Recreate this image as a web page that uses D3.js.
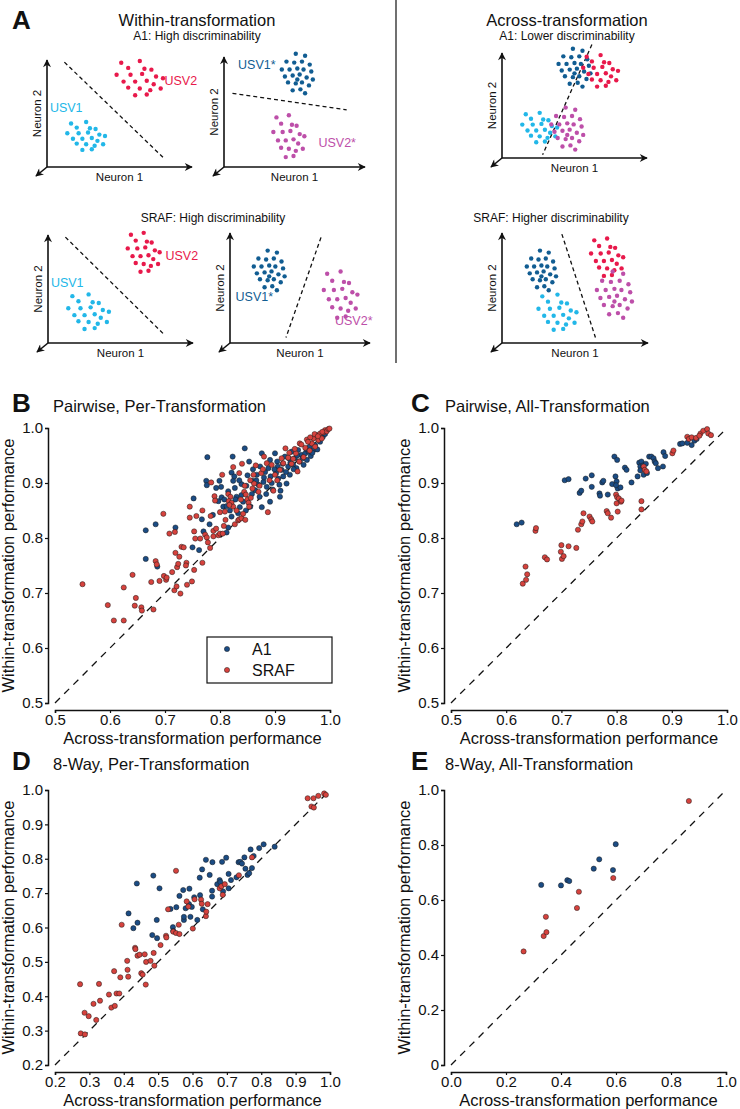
<!DOCTYPE html>
<html>
<head>
<meta charset="utf-8">
<script src="https://d3js.org/d3.v7.min.js"></script>
<style>
  body { margin: 0; background: #fff; font-family: "Liberation Sans", Arial, sans-serif; }
  svg text { font-family: "Liberation Sans", Arial, sans-serif; fill: #111; }
</style>
</head>
<body>
<div id="fig"></div>
<script>
// ---------- data ----------
// panel A: schematic clusters in neuron units (0-100 on both axes)
var patternA = [[-0.8,0.9],[0.0,1.0],[-0.5,0.6],[0.2,0.55],[0.5,0.5],[-1.0,0.2],[-0.4,0.2],[0.1,0.25],[0.7,0.1],[1.0,0.0],
  [-0.7,-0.2],[-0.2,-0.2],[0.3,-0.15],[0.6,-0.35],[-0.5,-0.55],[0.0,-0.6],[0.45,-0.7],[0.9,-0.6],[-0.2,-1.0],[0.3,-0.95]];
var patternB = [[-0.1,1.0],[0.5,0.9],[-0.7,0.6],[-0.2,0.55],[0.3,0.6],[0.8,0.45],[-1.0,0.2],[-0.5,0.2],[0.0,0.25],[0.4,0.2],
  [0.9,0.1],[-0.8,-0.15],[-0.3,-0.1],[0.15,-0.05],[0.6,-0.2],[1.0,-0.3],[-0.6,-0.45],[-0.1,-0.5],[0.3,-0.45],[0.75,-0.6],
  [-0.3,-0.85],[0.2,-0.8],[0.5,-1.0],[0.0,-0.3]];

// [plot, pattern, cx, cy, rx, ry, kind]
var clusters = [
  [0, 'A', 64, 83, 16, 16, 'usv2'], [0, 'A', 27, 29, 13, 13, 'usv1'],
  [1, 'B', 52, 85, 11, 18, 'usv1s'], [1, 'A', 46, 28, 11, 19, 'usv2s'],
  [2, 'B', 50, 86, 11, 18, 'usv1s'], [2, 'A', 68, 83, 12, 15, 'usv2'], [2, 'A', 26, 29, 12, 14, 'usv1'], [2, 'B', 45, 28, 11, 20, 'usv2s'],
  [3, 'A', 66, 84, 11, 18, 'usv2'], [3, 'A', 28, 29, 14, 16, 'usv1'],
  [4, 'B', 28, 66, 11, 18, 'usv1s'], [4, 'A', 79, 44, 12, 21, 'usv2s'],
  [5, 'B', 27, 66, 10, 18, 'usv1s'], [5, 'A', 38, 28, 13, 16, 'usv1'], [5, 'A', 72, 78, 11, 17, 'usv2'], [5, 'B', 77, 44, 12, 21, 'usv2s']
];
// decision boundaries [plot, x1, y1, x2, y2]
var boundaries = [[0, 12, 98, 80, 9], [1, 6, 67, 87, 52], [2, 62, 108, 28, 3],
  [3, 12, 98, 80, 8], [4, 65, 96, 40, 5], [5, 41, 99, 64, 5]];
// cluster labels [plot, x, y, text, kind]
var clusterLabels = [[0, 81, 77, 'USV2', 'usv2'], [0, 2, 51, 'USV1', 'usv1'],
  [1, 10, 89, 'USV1*', 'usv1s'], [1, 67, 18, 'USV2*', 'usv2s'],
  [3, 81, 77, 'USV2', 'usv2'], [3, 2, 52, 'USV1', 'usv1'],
  [4, 4, 38, 'USV1*', 'usv1s'], [4, 75, 16, 'USV2*', 'usv2s']];

// panel B: pairwise, per-transformation [across, within]
var bA1 = [[0.665,0.762],[0.665,0.814],[0.683,0.825],[0.686,0.748],[0.719,0.819],[0.750,0.783],[0.762,0.778],[0.752,0.872],
  [0.767,0.834],[0.770,0.812],[0.775,0.904],[0.777,0.947],[0.776,0.896],[0.781,0.825],[0.787,0.842],[0.797,0.867],[0.799,0.904],
  [0.803,0.874],[0.806,0.857],[0.812,0.858],[0.815,0.819],[0.823,0.948],[0.821,0.919],[0.824,0.904],[0.827,0.891],[0.830,0.875],
  [0.836,0.856],[0.839,0.898],[0.842,0.866],[0.845,0.963],[0.850,0.914],[0.853,0.939],[0.855,0.857],[0.859,0.904],[0.864,0.887],
  [0.867,0.915],[0.870,0.897],[0.873,0.930],[0.876,0.856],[0.879,0.902],[0.882,0.920],[0.885,0.893],[0.888,0.927],[0.891,0.866],
  [0.892,0.912],[0.896,0.888],[0.900,0.954],[0.902,0.918],[0.904,0.939],[0.908,0.897],[0.910,0.886],[0.912,0.924],[0.915,0.912],
  [0.918,0.948],[0.921,0.899],[0.924,0.930],[0.927,0.915],[0.930,0.957],[0.933,0.933],[0.936,0.945],[0.939,0.927],[0.942,0.960],
  [0.945,0.939],[0.948,0.951],[0.952,0.933],[0.955,0.954],[0.958,0.942],[0.961,0.957],[0.965,0.949],[0.970,0.960],[0.973,0.969],
  [0.977,0.961],[0.982,0.975],[0.987,0.984],[0.991,0.989],[0.839,0.878],[0.847,0.850],[0.833,0.845],[0.812,0.810],[0.821,0.839],
  [0.793,0.891],[0.802,0.893],[0.909,0.875],[0.891,0.942],[0.876,0.954],[0.860,0.925],[0.880,0.910],[0.905,0.930],[0.925,0.945],
  [0.815,0.885],[0.828,0.870],[0.835,0.905],[0.848,0.895],[0.858,0.880],[0.866,0.905],[0.872,0.875],[0.884,0.880],[0.894,0.900],
  [0.899,0.925],[0.906,0.908],[0.914,0.935],[0.920,0.920],[0.928,0.937],[0.934,0.925],[0.940,0.950],[0.950,0.945],[0.957,0.962],
  [0.963,0.966],[0.968,0.955],[0.808,0.870],[0.818,0.850],[0.826,0.912]];
var bSRAF = [[0.550,0.716],[0.596,0.678],[0.607,0.650],[0.625,0.650],[0.625,0.710],[0.641,0.733],[0.647,0.691],[0.645,0.677],
  [0.657,0.674],[0.658,0.668],[0.679,0.670],[0.675,0.720],[0.683,0.758],[0.685,0.752],[0.690,0.722],[0.698,0.731],[0.702,0.724],
  [0.703,0.728],[0.713,0.738],[0.717,0.705],[0.721,0.712],[0.728,0.699],[0.722,0.747],[0.724,0.753],[0.719,0.773],[0.726,0.766],
  [0.739,0.755],[0.738,0.750],[0.730,0.784],[0.734,0.783],[0.740,0.715],[0.749,0.721],[0.753,0.742],[0.768,0.755],[0.708,0.808],
  [0.718,0.811],[0.697,0.844],[0.745,0.857],[0.745,0.837],[0.753,0.812],[0.757,0.840],[0.755,0.799],[0.764,0.799],[0.768,0.850],
  [0.773,0.806],[0.776,0.801],[0.782,0.782],[0.778,0.792],[0.783,0.840],[0.784,0.901],[0.788,0.813],[0.788,0.803],[0.790,0.876],
  [0.791,0.868],[0.793,0.817],[0.797,0.805],[0.800,0.808],[0.805,0.808],[0.807,0.822],[0.810,0.833],[0.804,0.915],[0.800,0.847],
  [0.809,0.848],[0.815,0.880],[0.819,0.875],[0.816,0.867],[0.821,0.864],[0.824,0.857],[0.824,0.929],[0.827,0.825],[0.833,0.832],
  [0.835,0.834],[0.839,0.836],[0.842,0.844],[0.846,0.833],[0.835,0.918],[0.840,0.935],[0.844,0.884],[0.847,0.879],[0.850,0.870],
  [0.852,0.864],[0.853,0.857],[0.856,0.873],[0.859,0.890],[0.862,0.899],[0.861,0.915],[0.865,0.932],[0.870,0.884],[0.875,0.918],
  [0.880,0.948],[0.885,0.936],[0.887,0.847],[0.890,0.905],[0.894,0.933],[0.897,0.886],[0.904,0.905],[0.909,0.924],[0.915,0.936],
  [0.919,0.963],[0.924,0.946],[0.930,0.935],[0.933,0.944],[0.938,0.954],[0.941,0.921],[0.944,0.939],[0.945,0.972],[0.952,0.947],
  [0.955,0.964],[0.958,0.979],[0.963,0.959],[0.967,0.972],[0.970,0.981],[0.973,0.966],[0.976,0.987],[0.979,0.978],[0.982,0.990],
  [0.985,0.981],[0.988,0.992],[0.991,0.996],[0.994,0.994],[0.997,0.998],[0.999,0.999],[0.964,0.983],[0.972,0.989],
  [0.817,0.860],[0.830,0.850],[0.838,0.870],[0.845,0.895],[0.855,0.905],[0.872,0.895],[0.878,0.925],[0.900,0.915],[0.912,0.945],
  [0.926,0.955],[0.936,0.962],[0.948,0.970],[0.960,0.975],[0.978,0.985],[0.986,0.993]];

// panel C: pairwise, all-transformation
var cA1 = [[0.619,0.825],[0.628,0.828],[0.706,0.905],[0.713,0.907],[0.733,0.882],[0.736,0.886],[0.744,0.908],[0.755,0.914],
  [0.755,0.893],[0.774,0.901],[0.776,0.904],[0.769,0.881],[0.770,0.877],[0.784,0.879],[0.792,0.898],[0.798,0.912],[0.800,0.903],
  [0.796,0.948],[0.801,0.942],[0.802,0.890],[0.807,0.892],[0.799,0.896],[0.815,0.928],[0.818,0.924],[0.827,0.901],[0.838,0.912],
  [0.841,0.937],[0.843,0.930],[0.845,0.939],[0.848,0.932],[0.853,0.935],[0.859,0.948],[0.863,0.948],[0.867,0.945],[0.869,0.939],
  [0.871,0.936],[0.875,0.927],[0.884,0.930],[0.885,0.956],[0.888,0.949],[0.915,0.971],[0.919,0.972],[0.928,0.973],[0.936,0.969],
  [0.941,0.977],[0.945,0.980],[0.849,0.915],[0.855,0.918],[0.843,0.923]];
var cSRAF = [[0.630,0.717],[0.636,0.724],[0.638,0.734],[0.635,0.748],[0.653,0.813],[0.654,0.818],[0.670,0.765],[0.674,0.761],
  [0.700,0.787],[0.699,0.775],[0.701,0.762],[0.704,0.767],[0.713,0.785],[0.727,0.782],[0.730,0.815],[0.736,0.825],[0.738,0.830],
  [0.740,0.845],[0.751,0.839],[0.754,0.834],[0.756,0.830],[0.782,0.849],[0.784,0.845],[0.790,0.837],[0.802,0.848],[0.799,0.879],
  [0.801,0.874],[0.804,0.872],[0.800,0.863],[0.808,0.866],[0.809,0.868],[0.845,0.867],[0.845,0.852],[0.849,0.930],[0.851,0.924],
  [0.854,0.921],[0.901,0.954],[0.903,0.959],[0.928,0.984],[0.931,0.980],[0.936,0.983],[0.944,0.982],[0.952,0.990],[0.957,0.995],
  [0.964,0.998],[0.966,0.990],[0.971,0.987],[0.950,0.986]];

// panel D: 8-way, per-transformation
var dA1 = [[0.414,0.641],[0.428,0.598],[0.440,0.614],[0.438,0.728],[0.486,0.751],[0.483,0.578],[0.496,0.622],[0.497,0.569],
  [0.504,0.714],[0.536,0.654],[0.543,0.601],[0.544,0.590],[0.553,0.659],[0.562,0.692],[0.573,0.709],[0.575,0.622],[0.575,0.631],
  [0.580,0.656],[0.590,0.668],[0.591,0.713],[0.594,0.631],[0.598,0.660],[0.605,0.688],[0.614,0.622],[0.621,0.745],[0.622,0.694],
  [0.628,0.769],[0.630,0.653],[0.639,0.797],[0.650,0.753],[0.658,0.790],[0.657,0.707],[0.657,0.690],[0.672,0.726],[0.679,0.738],
  [0.681,0.732],[0.686,0.791],[0.689,0.705],[0.698,0.803],[0.705,0.756],[0.705,0.714],[0.712,0.738],[0.728,0.746],[0.734,0.790],
  [0.739,0.791],[0.744,0.786],[0.751,0.804],[0.754,0.771],[0.760,0.753],[0.765,0.758],[0.769,0.827],[0.773,0.773],[0.778,0.808],
  [0.794,0.831],[0.807,0.842],[0.839,0.835]];
var dSRAF = [[0.273,0.435],[0.275,0.292],[0.287,0.289],[0.286,0.352],[0.298,0.342],[0.312,0.378],[0.320,0.331],[0.328,0.436],
  [0.331,0.387],[0.357,0.405],[0.364,0.367],[0.374,0.372],[0.372,0.473],[0.379,0.408],[0.387,0.408],[0.390,0.455],[0.394,0.608],
  [0.410,0.503],[0.411,0.477],[0.413,0.457],[0.433,0.541],[0.434,0.537],[0.440,0.518],[0.446,0.521],[0.451,0.467],[0.455,0.463],
  [0.461,0.522],[0.465,0.500],[0.464,0.434],[0.478,0.503],[0.487,0.526],[0.489,0.489],[0.507,0.549],[0.523,0.576],[0.524,0.571],
  [0.529,0.653],[0.544,0.588],[0.552,0.765],[0.552,0.584],[0.560,0.608],[0.562,0.581],[0.583,0.676],[0.588,0.661],[0.601,0.597],
  [0.606,0.682],[0.625,0.681],[0.627,0.669],[0.639,0.633],[0.640,0.646],[0.644,0.668],[0.679,0.714],[0.684,0.720],[0.688,0.695],
  [0.694,0.726],[0.735,0.752],[0.773,0.804],[0.935,0.976],[0.952,0.976],[0.966,0.983],[0.946,0.952],[0.953,0.949],[0.983,0.990],
  [0.988,0.986]];

// panel E: 8-way, all-transformation
var eA1 = [[0.599,0.803],[0.539,0.748],[0.519,0.714],[0.589,0.709],[0.328,0.655],[0.400,0.653],[0.423,0.672],[0.430,0.669]];
var eSRAF = [[0.865,0.960],[0.590,0.680],[0.465,0.630],[0.458,0.571],[0.345,0.539],[0.264,0.413],[0.337,0.469],[0.347,0.483]];

var ticksPair = [0.5, 0.6, 0.7, 0.8, 0.9, 1.0];
var ticksD = [0.2, 0.3, 0.4, 0.5, 0.6, 0.7, 0.8, 0.9, 1.0];
var ticksE = [0, 0.2, 0.4, 0.6, 0.8, 1.0];

// ---------- drawing ----------
var W = 740, H = 1109;
var svg = d3.select('#fig').append('svg').attr('width', W).attr('height', H);

var col = { usv1: '#22b7e8', usv2: '#e8194b', usv1s: '#115d92', usv2s: '#bd4fa9' };
var colA1 = '#1b4c84', colSRAF = '#d6423d';

svg.append('defs').append('marker')
    .attr('id', 'arr').attr('viewBox', '0 0 10 10').attr('refX', 9).attr('refY', 5)
    .attr('markerWidth', 9).attr('markerHeight', 8).attr('markerUnits', 'userSpaceOnUse')
    .attr('orient', 'auto')
  .append('path').attr('d', 'M0,0 L10,5 L0,10 L3,5 Z').attr('fill', '#111');

// --- panel A ---
svg.append('text').attr('x', 12).attr('y', 29).style('font-size', '26px').style('font-weight', 'bold').text('A');
svg.append('text').attr('x', 197).attr('y', 26).attr('text-anchor', 'middle').style('font-size', '16.5px').text('Within-transformation');
svg.append('text').attr('x', 197).attr('y', 40).attr('text-anchor', 'middle').style('font-size', '12px').text('A1: High discriminability');
svg.append('text').attr('x', 213).attr('y', 222).attr('text-anchor', 'middle').style('font-size', '12px').text('SRAF: High discriminability');
svg.append('text').attr('x', 567).attr('y', 26).attr('text-anchor', 'middle').style('font-size', '16.5px').text('Across-transformation');
svg.append('text').attr('x', 567).attr('y', 40).attr('text-anchor', 'middle').style('font-size', '12px').text('A1: Lower discriminability');
svg.append('text').attr('x', 551).attr('y', 222).attr('text-anchor', 'middle').style('font-size', '12px').text('SRAF: Higher discriminability');
svg.append('line').attr('x1', 396).attr('x2', 396).attr('y1', 0).attr('y2', 363).attr('stroke', '#111').attr('stroke-width', 1.2);

// mini plot frames: origin x, origin y, width, height
var frames = [[47, 167, 145, 107], [224, 167, 141, 110], [502, 158, 145, 105],
              [48, 343, 145, 108], [230, 343, 140, 110], [502, 343, 146, 110]];

var mini = frames.map(function(f) {
  var g = svg.append('g');
  var x = d3.scaleLinear().domain([0, 100]).range([f[0], f[0] + f[2]]);
  var y = d3.scaleLinear().domain([0, 100]).range([f[1], f[1] - f[3]]);
  g.append('line').attr('x1', x(0)).attr('y1', y(0)).attr('x2', x(0)).attr('y2', y(100))
    .attr('stroke', '#111').attr('stroke-width', 1.6).attr('marker-end', 'url(#arr)');
  g.append('line').attr('x1', x(0)).attr('y1', y(0)).attr('x2', x(100)).attr('y2', y(0))
    .attr('stroke', '#111').attr('stroke-width', 1.6).attr('marker-end', 'url(#arr)');
  g.append('line').attr('x1', x(0)).attr('y1', y(0)).attr('x2', x(0) - 11).attr('y2', y(0) + 9)
    .attr('stroke', '#111').attr('stroke-width', 1.6).attr('marker-end', 'url(#arr)');
  g.append('text').attr('x', x(50)).attr('y', y(0) + 14).attr('text-anchor', 'middle')
    .style('font-size', '11.5px').text('Neuron 1');
  g.append('text').attr('transform', 'translate(' + (x(0) - 6) + ',' + y(50) + ') rotate(-90)')
    .attr('text-anchor', 'middle').style('font-size', '11.5px').text('Neuron 2');
  return { g: g, x: x, y: y };
});

boundaries.forEach(function(b) {
  var m = mini[b[0]];
  m.g.append('line').attr('x1', m.x(b[1])).attr('y1', m.y(b[2])).attr('x2', m.x(b[3])).attr('y2', m.y(b[4]))
    .attr('stroke', '#111').attr('stroke-width', 1.3).attr('stroke-dasharray', '4,3');
});

clusters.forEach(function(c) {
  var m = mini[c[0]];
  var pat = c[1] === 'A' ? patternA : patternB;
  m.g.selectAll(null).data(pat).enter().append('circle')
    .attr('cx', function(p) { return m.x(c[2] + p[0] * c[4]); })
    .attr('cy', function(p) { return m.y(c[3] + p[1] * c[5]); })
    .attr('r', 2.2)
    .attr('fill', col[c[6]]);
});

clusterLabels.forEach(function(l) {
  var m = mini[l[0]];
  m.g.append('text').attr('x', m.x(l[1])).attr('y', m.y(l[2]))
    .style('font-size', '12.5px').style('fill', col[l[4]]).text(l[3]);
});

// --- scatter panels ---
function scatter(o) {
  var g = svg.append('g');
  var x = d3.scaleLinear().domain(o.dom).range([o.x0, o.x1]);
  var y = d3.scaleLinear().domain(o.dom).range([o.y0, o.y1]);

  g.append('text').attr('x', o.letterX).attr('y', o.titleY).style('font-size', '26px')
    .style('font-weight', 'bold').text(o.letter);
  g.append('text').attr('x', o.titleX).attr('y', o.titleY).style('font-size', '16.5px').text(o.title);

  var yAxis = d3.axisLeft(y).tickValues(o.yticks).tickSize(3).tickPadding(2).tickFormat(o.yfmt);
  var xAxis = d3.axisBottom(x).tickValues(o.xticks).tickSize(3).tickPadding(1).tickFormat(o.xfmt);
  var ya = g.append('g').attr('transform', 'translate(' + (o.x0 - 7) + ',0)').call(yAxis);
  var xa = g.append('g').attr('transform', 'translate(0,' + (o.y0 + 7) + ')').call(xAxis);
  [ya, xa].forEach(function(a) {
    a.attr('font-size', 15).attr('font-family', '"Liberation Sans", Arial, sans-serif');
    a.select('.domain').attr('stroke', '#111').attr('stroke-width', 1.5);
    a.selectAll('.tick line').attr('stroke', '#111').attr('stroke-width', 1.2);
    a.selectAll('.tick text').style('font-size', '15px').attr('fill', '#111');
  });

  g.append('text').attr('x', (o.x0 + o.x1) / 2).attr('y', o.y0 + 41).attr('text-anchor', 'middle')
    .style('font-size', '16.5px').text('Across-transformation performance');
  g.append('text').attr('transform', 'translate(' + (o.x0 - 41) + ',' + ((o.y0 + o.y1) / 2) + ') rotate(-90)')
    .attr('text-anchor', 'middle').style('font-size', '16.5px').text('Within-transformation performance');

  g.append('line').attr('x1', x(o.dom[0])).attr('y1', y(o.dom[0])).attr('x2', x(o.dom[1])).attr('y2', y(o.dom[1]))
    .attr('stroke', '#111').attr('stroke-width', 1.3).attr('stroke-dasharray', '7,6');

  [[o.a1, colA1], [o.sraf, colSRAF]].forEach(function(s) {
    g.selectAll(null).data(s[0]).enter().append('circle')
      .attr('cx', function(d) { return x(d[0]); })
      .attr('cy', function(d) { return y(d[1]); })
      .attr('r', 2.6)
      .attr('fill', s[1])
      .attr('stroke', '#1a1a1a').attr('stroke-width', 0.5);
  });
  return g;
}

var fmt1 = d3.format('.1f');

var gB = scatter({ letter: 'B', title: 'Pairwise, Per-Transformation', letterX: 12, titleX: 53, titleY: 412,
  dom: [0.5, 1.0], x0: 55, x1: 330, y0: 703, y1: 428, xticks: ticksPair, yticks: ticksPair,
  xfmt: fmt1, yfmt: fmt1, a1: bA1, sraf: bSRAF });
scatter({ letter: 'C', title: 'Pairwise, All-Transformation', letterX: 411, titleX: 445, titleY: 412,
  dom: [0.5, 1.0], x0: 451, x1: 727, y0: 703, y1: 428, xticks: ticksPair, yticks: ticksPair,
  xfmt: fmt1, yfmt: fmt1, a1: cA1, sraf: cSRAF });
scatter({ letter: 'D', title: '8-Way, Per-Transformation', letterX: 12, titleX: 53, titleY: 770,
  dom: [0.2, 1.0], x0: 55, x1: 330, y0: 1065, y1: 790, xticks: ticksD, yticks: ticksD,
  xfmt: fmt1, yfmt: fmt1, a1: dA1, sraf: dSRAF });
scatter({ letter: 'E', title: '8-Way, All-Transformation', letterX: 411, titleX: 445, titleY: 770,
  dom: [0, 1.0], x0: 451, x1: 726, y0: 1065, y1: 790, xticks: ticksE, yticks: ticksE,
  xfmt: fmt1, yfmt: function(d) { return d === 0 ? '0' : fmt1(d); }, a1: eA1, sraf: eSRAF });

// legend in B
var leg = gB.append('g');
leg.append('rect').attr('x', 207).attr('y', 637).attr('width', 125).attr('height', 46)
  .attr('fill', '#fff').attr('stroke', '#111').attr('stroke-width', 1.2);
[['A1', colA1], ['SRAF', colSRAF]].forEach(function(e, i) {
  leg.append('circle').attr('cx', 227).attr('cy', 649 + i * 21).attr('r', 2.6)
    .attr('fill', e[1]).attr('stroke', '#1a1a1a').attr('stroke-width', 0.5);
  leg.append('text').attr('x', 252).attr('y', 655 + i * 21).style('font-size', '16px').text(e[0]);
});
</script>
</body>
</html>
